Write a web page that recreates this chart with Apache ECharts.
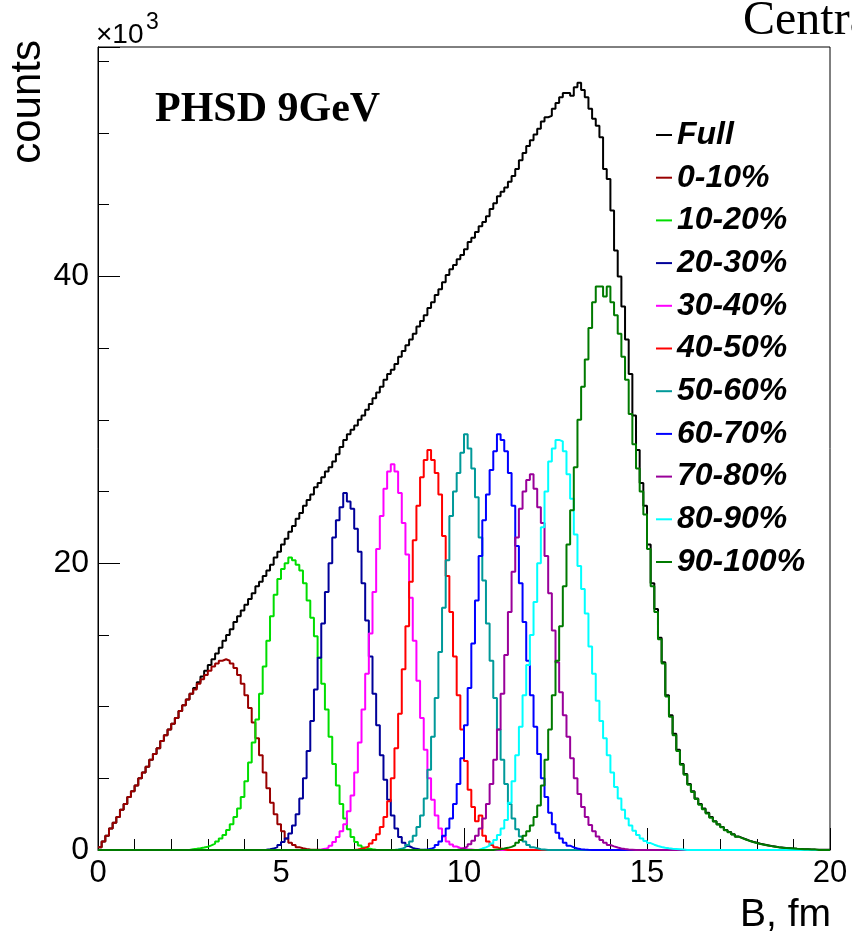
<!DOCTYPE html>
<html>
<head>
<meta charset="utf-8">
<script src="https://cdn.jsdelivr.net/npm/echarts@6/dist/echarts.min.js"></script>
<style>
html,body{margin:0;padding:0;background:#fff;}
#c{width:852px;height:935px;}
</style>
</head>
<body>
<div id="c"></div>
<script>
// ---- data (counts in thousands, 0.1 fm bins) ----
const binWidth = 0.1;
const nBins = 200;
const xTickLabels = ['0', '5', '10', '15', '20'];
const yTickLabels = ['0', '20', '40'];
const seriesNames = ['Full', '0-10%', '10-20%', '20-30%', '30-40%', '40-50%', '50-60%', '60-70%', '70-80%', '80-90%', '90-100%'];

// first bin low edge of each array (fm)
const fullStart = 0.0;
const full = [
 0.2,0.6,1.0,1.5,1.9,2.3,2.8,3.2,3.7,4.1,
 4.5,5.0,5.4,5.8,6.3,6.7,7.1,7.6,8.0,8.4,
 8.8,9.2,9.7,10.1,10.5,10.9,11.3,11.7,12.1,12.5,
 12.9,13.3,13.7,14.1,14.6,15.0,15.4,15.9,16.3,16.7,
 17.1,17.5,17.9,18.4,18.7,19.1,19.5,19.9,20.4,20.8,
 21.3,21.7,22.2,22.6,23.1,23.5,24.0,24.4,24.8,25.3,
 25.6,26.0,26.4,26.7,27.1,27.6,28.1,28.6,29.0,29.3,
 29.6,30.0,30.3,30.7,31.1,31.5,31.9,32.3,32.8,33.2,
 33.5,33.9,34.4,34.8,35.2,35.6,36.0,36.5,36.9,37.3,
 37.8,38.2,38.7,39.1,39.6,40.1,40.5,40.8,41.2,41.5,
 41.9,42.4,42.7,43.1,43.5,43.8,44.2,44.7,45.1,45.6,
 45.9,46.2,46.6,47.0,47.5,48.1,48.6,49.1,49.5,49.9,
 50.3,50.8,51.1,51.2,51.7,52.1,52.5,52.8,52.8,52.6,
 53.2,53.5,53.0,52.5,51.7,51.0,50.5,49.7,47.5,46.8,
 44.6,41.8,40.0,37.9,35.6,33.2,30.3,27.9,25.6,24.0,
 21.3,18.6,16.8,14.8,13.1,10.8,9.4,8.1,7.0,6.0,
 5.3,4.6,4.1,3.6,3.2,2.9,2.6,2.3,2.0,1.8,
 1.6,1.4,1.25,1.1,0.95,0.85,0.75,0.65,0.57,0.5,
 0.43,0.38,0.33,0.28,0.24,0.2,0.17,0.14,0.12,0.1,
 0.08,0.07,0.06,0.05,0.04,0.03,0.025,0.02,0.015,0.01
];

const c0_10Start = 0.0;
const c0_10 = [
 0.2,0.6,1.0,1.5,1.9,2.3,2.8,3.2,3.7,4.1,
 4.5,5.0,5.4,5.8,6.3,6.7,7.1,7.6,8.0,8.4,
 8.8,9.2,9.7,10.1,10.5,10.9,11.2,11.6,11.9,12.2,
 12.5,12.8,13.0,13.2,13.3,13.2,13.0,12.7,12.2,11.6,
 10.8,9.9,8.9,7.8,6.6,5.4,4.3,3.3,2.5,1.8,
 1.3,0.8,0.5,0.35,0.2,0.12,0.07,0.04,0.02,0.01
];

const c10_20Start = 2.5;
const c10_20 = [
 0.05,0.08,0.12,0.17,0.23,0.32,0.45,0.6,0.8,1.05,
 1.4,1.8,2.3,2.9,3.7,4.8,6.1,7.5,9.1,10.9,
 12.8,14.6,16.3,17.8,18.9,19.6,20.0,20.4,20.2,19.9,
 19.5,18.6,17.4,16.2,14.9,13.4,11.6,9.8,7.9,6.0,
 4.5,3.2,2.2,1.45,0.9,0.55,0.32,0.18,0.1,0.05,0.02
];

const c20_30Start = 4.5;
const c20_30 = [
 0.02,0.05,0.1,0.2,0.35,0.55,0.8,1.15,1.7,2.5,
 3.6,5.0,6.9,9.0,11.2,13.4,15.8,18.0,20.0,21.8,
 23.0,23.9,24.9,24.3,23.8,22.4,20.8,18.6,16.0,13.5,
 10.9,8.7,6.6,4.9,3.5,2.4,1.5,0.9,0.5,0.28,
 0.15,0.08,0.04,0.02
];

const c30_40Start = 6.0;
const c30_40 = [
 0.03,0.08,0.15,0.3,0.55,0.9,1.3,1.8,2.7,3.8,
 5.4,7.5,9.8,12.3,15.1,18.0,21.0,23.3,25.2,26.4,
 26.9,26.4,24.9,22.8,20.6,17.6,14.6,11.8,9.2,7.0,
 5.0,3.5,2.4,1.5,0.95,0.6,0.38,0.24,0.15,0.09,
 0.05,0.03
];

const c40_50Start = 7.0;
const c40_50 = [
 0.03,0.08,0.15,0.25,0.45,0.7,1.1,1.6,2.3,3.4,
 5.0,7.1,9.5,12.6,15.6,18.7,21.6,24.0,26.0,27.2,
 27.9,27.2,26.3,24.8,21.9,19.1,16.6,13.5,10.8,8.4,
 6.2,4.2,3.0,2.0,2.4,1.0,0.6,0.35,0.2,0.1,0.05
];

const c50_60Start = 8.1;
const c50_60 = [
 0.03,0.08,0.18,0.35,0.6,1.0,1.6,2.4,3.6,5.6,
 7.9,10.6,13.8,16.9,20.2,23.3,25.0,26.3,27.7,29.0,
 28.0,26.6,24.6,21.8,18.8,15.8,13.2,10.6,8.4,6.3,
 4.6,3.2,2.2,1.45,0.95,0.6,0.35,0.2,0.12,0.06,0.03
];

const c60_70Start = 8.9;
const c60_70 = [
 0.03,0.08,0.18,0.35,0.6,1.0,1.5,2.2,3.2,4.6,
 6.4,8.7,11.3,14.4,17.4,20.5,23.0,24.8,26.5,27.8,
 29.0,28.6,27.8,26.3,24.0,21.2,18.6,15.9,13.2,10.8,
 8.6,6.7,5.0,3.7,2.6,1.8,1.2,0.8,0.5,0.3,
 0.18,0.1,0.06,0.03,0.01
];

const c70_80Start = 9.8;
const c70_80 = [
 0.05,0.12,0.25,0.4,0.65,1.0,1.5,2.2,3.2,4.6,
 6.3,8.4,10.9,13.6,16.6,19.4,21.8,23.8,25.0,25.8,
 26.2,25.2,23.9,22.8,20.5,17.9,15.3,13.1,11.0,9.4,
 7.9,6.4,5.0,3.9,3.0,2.3,1.75,1.3,0.95,0.7,
 0.5,0.35,0.25,0.17,0.11,0.07,0.04,0.02
];

const c80_90Start = 10.4;
const c80_90 = [
 0.1,0.18,0.3,0.45,0.7,1.05,1.5,2.1,3.3,4.8,
 6.6,8.6,10.8,12.9,15.0,17.3,20.0,22.5,25.0,27.1,
 28.0,28.6,28.5,27.8,26.2,24.5,22.0,19.8,18.2,16.5,
 14.2,12.3,10.4,9.0,7.8,6.6,5.4,4.4,3.6,2.8,
 2.2,1.7,1.35,1.05,0.8,0.62,0.48,0.37,0.28,0.21,
 0.16,0.12,0.09,0.07,0.05,0.03
];

const c90_100Start = 10.8;
const c90_100 = [
 0.03,0.06,0.1,0.15,0.22,0.33,0.5,0.7,1.0,1.3,
 1.7,2.3,3.1,4.5,6.3,8.4,10.8,13.2,15.6,18.4,
 21.3,23.7,26.7,30.0,32.3,34.2,36.4,38.2,39.3,39.3,
 38.6,39.3,38.2,37.3,36.0,34.4,32.8,30.4,28.3,26.6,
 25.0,23.4,21.0,18.4,16.6,14.7,13.0,10.7,9.3,8.0,
 6.9,5.95,5.25,4.55,4.05,3.55,3.15,2.85,2.55,2.25,
 1.98,1.78,1.58,1.38,1.23,1.08,0.93,0.83,0.73,0.64,
 0.56,0.49,0.42,0.37,0.32,0.27,0.23,0.19,0.16,0.14,
 0.12,0.1,0.08,0.07,0.06,0.05,0.04,0.03
];

const seriesColors = ['#000000', '#990000', '#00dd00', '#000099', '#ff00ff', '#ff0000', '#009999', '#0000ff', '#990099', '#00ffff', '#007a00'];

// ---- build histogram step data ----
function histPoints(startEdge, values) {
  const arr = new Array(nBins).fill(0);
  const off = Math.round(startEdge / binWidth);
  values.forEach((v, i) => { if (off + i < nBins) arr[off + i] = v; });
  const pts = [];
  for (let i = 0; i < nBins; i++) pts.push([+(i * binWidth).toFixed(2), arr[i]]);
  pts.push([nBins * binWidth, arr[nBins - 1]]);
  return pts;
}
const seriesData = [
  histPoints(fullStart, full),
  histPoints(c0_10Start, c0_10),
  histPoints(c10_20Start, c10_20),
  histPoints(c20_30Start, c20_30),
  histPoints(c30_40Start, c30_40),
  histPoints(c40_50Start, c40_50),
  histPoints(c50_60Start, c50_60),
  histPoints(c60_70Start, c60_70),
  histPoints(c70_80Start, c70_80),
  histPoints(c80_90Start, c80_90),
  histPoints(c90_100Start, c90_100)
];

const FONT = 'Liberation Sans';
const chart = echarts.init(document.getElementById('c'), null, {renderer: 'canvas'});
const series = seriesNames.map((name, k) => ({
  name: name,
  type: 'line',
  step: 'end',
  data: seriesData[k],
  xAxisIndex: 0,
  yAxisIndex: 0,
  showSymbol: false,
  symbol: 'none',
  lineStyle: {color: seriesColors[k], width: 2},
  itemStyle: {color: seriesColors[k]},
  emphasis: {disabled: true},
  silent: true
}));

chart.setOption({
  animation: false,
  backgroundColor: '#ffffff',
  grid: {left: 98, right: 22, top: 47, bottom: 85, show: true, borderColor: '#000', borderWidth: 1, backgroundColor: 'transparent'},
  xAxis: [{
    type: 'value', min: 0, max: 20, interval: 5,
    axisLine: {show: true, lineStyle: {color: '#000', width: 1}},
    axisTick: {show: true, inside: true, length: 22, lineStyle: {color: '#000', width: 1}},
    minorTick: {show: true, splitNumber: 5, length: 11, lineStyle: {color: '#000', width: 1}},
    splitLine: {show: false},
    axisLabel: {show: true, color: '#000', fontSize: 31, fontFamily: FONT, margin: 8,
      formatter: v => { const i = xTickLabels.indexOf(String(v)); return i >= 0 ? xTickLabels[i] : ''; }}
  }],
  yAxis: [{
    type: 'value', min: 0, max: 56, interval: 5, position: 'left',
    axisLine: {show: true, lineStyle: {color: '#000', width: 1}},
    axisTick: {show: true, inside: true, length: 11, lineStyle: {color: '#000', width: 1}},
    splitLine: {show: false},
    axisLabel: {show: false}
  }, {
    type: 'value', min: 0, max: 56, interval: 20, position: 'left', offset: 0,
    axisLine: {show: true, lineStyle: {color: '#000', width: 1}},
    axisTick: {show: true, inside: true, length: 22, lineStyle: {color: '#000', width: 1}},
    splitLine: {show: false},
    axisLabel: {show: true, color: '#000', fontSize: 32, fontFamily: FONT, margin: 9,
      formatter: v => { const i = yTickLabels.indexOf(String(v)); return i >= 0 ? yTickLabels[i] : ''; }}
  }],
  legend: {
    show: true, orient: 'vertical', left: 651, top: 114,
    data: seriesNames,
    icon: 'rect', itemWidth: 16, itemHeight: 2, itemGap: 10.7,
    selectedMode: false,
    textStyle: {color: '#000', fontSize: 32, fontWeight: 'bold', fontStyle: 'italic', fontFamily: FONT, lineHeight: 32}
  },
  graphic: [
    {type: 'text', left: 155, top: 89, style: {text: 'PHSD 9GeV', font: 'bold 42px "Liberation Serif"', fill: '#000'}},
    {type: 'text', x: 743, y: 45, style: {text: 'Centrality', font: '48px "Liberation Serif"', fill: '#000', textVerticalAlign: 'bottom'}},
    {type: 'text', x: 96, y: 35, style: {text: '×10', font: '28px "Liberation Sans"', fill: '#000', textVerticalAlign: 'middle'}},
    {type: 'text', x: 146, y: 23, style: {text: '3', font: '23px "Liberation Sans"', fill: '#000', textVerticalAlign: 'middle'}},
    {type: 'text', x: 831, y: 935, style: {text: 'B, fm', font: '39px "Liberation Sans"', fill: '#000', textAlign: 'right', textVerticalAlign: 'bottom'}},
    {type: 'text', x: 49, y: 40, rotation: Math.PI / 2, style: {text: 'counts', font: '42px "Liberation Sans"', fill: '#000', textAlign: 'right', textVerticalAlign: 'bottom'}}
  ],
  series: series
});
</script>
</body>
</html>
